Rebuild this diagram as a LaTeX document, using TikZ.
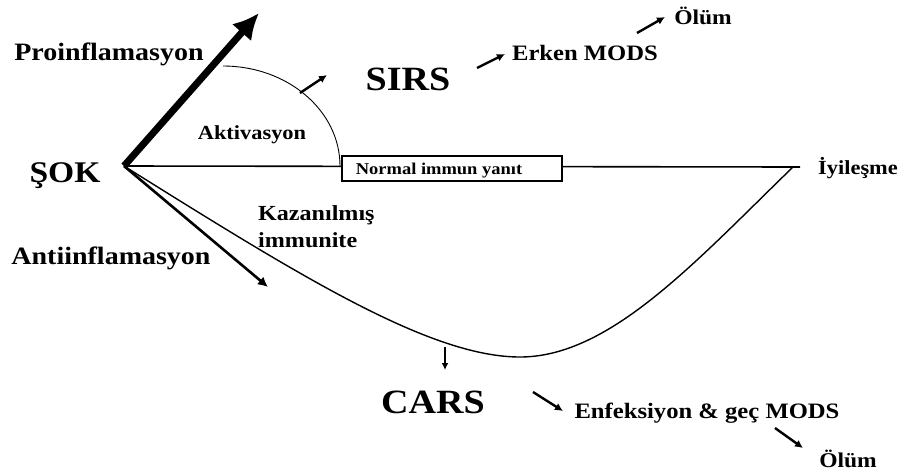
\documentclass[tikz,border=0pt]{standalone}
\usepackage{fontspec}
\setmainfont{Liberation Serif}[FakeStretch=1.12]
\usetikzlibrary{arrows.meta,positioning}

\begin{document}
\begin{tikzpicture}[
  x=1pt, y=-1pt,
  >=Latex,
  txt/.style={inner sep=0pt, anchor=base, font=\fontsize{#1}{#1}\selectfont\bfseries},
  txt/.default=21,
  curve/.style={line width=1.4pt},
  tinyarrow/.style={line width=2.4pt, -{Latex[length=8pt,width=8pt]}}
]
\useasboundingbox (0,0) rectangle (906,475);

% Main axes from the shock point
\coordinate (o) at (124,166);
\coordinate (proEnd) at (259,13);
\coordinate (antiEnd) at (268,287);
\coordinate (rec) at (793,167);
\coordinate (lineEnd) at (800,167);
\coordinate (bot) at (520,357);

\node[txt=30] (sok) at (65,182) {ŞOK};
\node[txt=25] (pro) at (109,60) {Proinflamasyon};
\node[txt=25] (anti) at (111,264) {Antiinflamasyon};

\draw[line width=1.6pt] (o) -- (lineEnd);
\draw[curve] (o) .. controls (300,276) and (430,357) .. (bot)
  .. controls (610,357) and (695,262) .. (rec);
\draw[line width=7pt, -{Latex[length=26pt,width=26pt]}] (o) -- (proEnd);
\draw[line width=2.6pt, -{Latex[length=10pt,width=10pt]}] (o) -- (antiEnd);

% Activation arc
\coordinate (arcA) at (223,66);
\coordinate (arcB) at (340,166);
\draw[line width=0.9pt] (arcA) .. controls (288,66) and (340,111) .. (arcB);
\node[txt=20] (akt) at (252,139) {Aktivasyon};

\node[draw, line width=1.8pt, fill=white, minimum width=220pt, minimum height=25pt, inner sep=0pt] (normal) at (452,168.5) {};
\node[txt=16.5] (normalTxt) at (439,174) {Normal immun yanıt};
\node[txt=20, anchor=base west] (iyi) at (818,174) {İyileşme};

\node[txt=21.5, anchor=base west] (kaz) at (258,220) {Kazanılmış};
\node[txt=21.5, anchor=base west] (imm) at (258,247) {immunite};

% SIRS branch
\node[txt=34] (sirs) at (408,90) {SIRS};
\node[txt=22] (erken) at (585,60) {Erken MODS};
\node[txt=21] (olum1) at (703,24) {Ölüm};
\coordinate (a1s) at (300,93);
\coordinate (a1e) at (327,75);
\coordinate (a2s) at (477,68);
\coordinate (a2e) at (505,54);
\coordinate (a3s) at (637,33);
\coordinate (a3e) at (665,17);
\draw[tinyarrow] (a1s) -- (a1e);
\draw[tinyarrow] (a2s) -- (a2e);
\draw[tinyarrow] (a3s) -- (a3e);

% CARS branch
\node[txt=34] (cars) at (433,413) {CARS};
\node[txt=22] (enf) at (707,418) {Enfeksiyon \& geç MODS};
\node[txt=21] (olum2) at (848,467) {Ölüm};
\coordinate (d1s) at (445,347);
\coordinate (d1e) at (445,370);
\coordinate (a4s) at (533,392);
\coordinate (a4e) at (563,411);
\coordinate (a5s) at (775,428);
\coordinate (a5e) at (803,448);
\draw[line width=1.6pt, -{Latex[length=7pt,width=7pt]}] (d1s) -- (d1e);
\draw[tinyarrow] (a4s) -- (a4e);
\draw[tinyarrow] (a5s) -- (a5e);

\end{tikzpicture}
\end{document}
